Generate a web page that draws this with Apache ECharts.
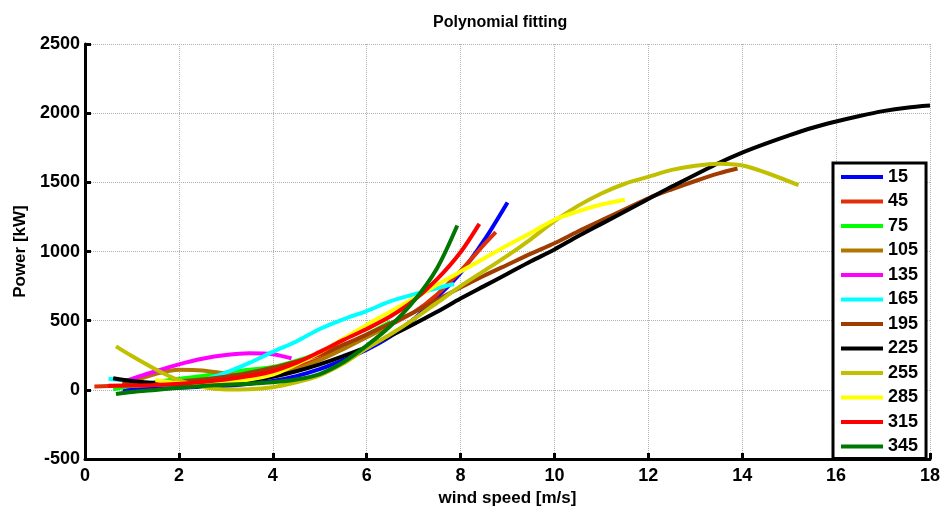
<!DOCTYPE html>
<html>
<head>
<meta charset="utf-8">
<script src="https://cdn.jsdelivr.net/npm/echarts@6/dist/echarts.min.js"></script>
<style>
html,body{margin:0;padding:0;background:#fff;}
#chart{width:943px;height:512px;}
</style>
</head>
<body>
<div id="chart"></div>
<script>
const directions = ['15','45','75','105','135','165','195','225','255','285','315','345'];
const colors = ['#0000ff','#e0300a','#00ff00','#b07800','#ff00ff','#00ffff','#a03c00','#000000','#c0c000','#ffff00','#ff0000','#007700'];

const ws15 = [0.8,1,1.5,2,2.5,3,3.5,4,4.5,5,5.5,6,6.5,7,7.5,8,8.5,9];
const p15  = [0,2,8,15,22,30,45,65,100,150,215,290,385,510,670,845,1080,1355];

const ws45 = [0.2,0.5,1,1.5,2,2.5,3,3.5,4,4.5,5,5.5,6,6.5,7,7.5,8,8.5,8.75];
const p45  = [25,28,33,38,45,55,70,90,120,165,225,300,385,470,560,690,860,1050,1140];

const ws75 = [0.6,1,1.5,2,2.5,3,3.5,4,4.5,5,5.5,6,6.5];
const p75  = [5,30,55,80,100,125,145,165,210,265,320,400,490];

const ws105 = [0.8,1,1.5,2,2.5,3,3.5,4,4.5,5,5.5,6,6.5];
const p105  = [40,60,115,145,140,118,100,105,150,215,295,380,470];

const ws135 = [0.8,1,1.5,2,2.5,3,3.5,4,4.4];
const p135  = [60,80,135,185,225,252,265,258,228];

const ws165 = [0.5,1,1.5,2,2.5,3,3.5,4,4.5,5,5.5,6,6.5,7,7.5,7.86];
const p165  = [80,62,45,40,70,125,195,275,350,440,510,570,640,690,735,765];

const ws195 = [0.8,1,1.5,2,2.5,3,3.5,4,4.5,5,5.5,6,6.5,7,7.5,8,8.5,9,9.5,10,10.5,11,11.5,12,12.5,13,13.5,13.9];
const p195  = [45,45,50,60,75,95,125,160,205,255,325,400,480,560,650,740,825,905,985,1060,1145,1225,1305,1385,1450,1510,1565,1600];

const ws225 = [0.6,1,1.5,2,2.5,3,3.5,4,4.5,5,5.5,6,6.5,7,7.5,8,8.5,9,9.5,10,10.5,11,11.5,12,12.5,13,13.5,14,14.5,15,15.5,16,16.5,17,17.5,18];
const p225  = [85,65,50,45,45,55,70,95,135,185,245,310,390,475,565,660,750,840,930,1015,1110,1200,1290,1380,1470,1555,1640,1715,1780,1840,1895,1940,1980,2015,2040,2055];

const ws255 = [0.66,1,1.5,2,2.5,3,3.5,4,4.5,5,5.5,6,6.5,7,7.5,8,8.5,9,9.5,10,10.5,11,11.5,12,12.5,13,13.5,14.1,15.2];
const p255  = [315,245,150,70,20,3,5,20,55,105,190,300,400,510,630,750,860,970,1090,1220,1330,1420,1490,1540,1590,1620,1635,1615,1480];

const ws285 = [1.5,2,2.5,3,3.5,4,4.5,5,5.5,6,6.5,7,7.5,8,8.5,9,9.5,10,10.5,11,11.5];
const p285  = [70,50,45,55,75,110,185,270,370,470,565,660,760,855,950,1045,1135,1230,1290,1340,1375];

const ws315 = [0.5,1,1.5,2,2.5,3,3.5,4,4.5,5,5.5,6,6.5,7,7.5,8,8.4];
const p315  = [30,32,36,45,58,75,100,135,195,275,360,440,530,645,800,995,1200];

const ws345 = [0.66,1,1.5,2,2.5,3,3.5,4,4.5,5,5.5,6,6.5,7,7.5,7.93];
const p345  = [-30,-15,0,15,28,38,45,55,75,115,200,320,460,640,880,1188];

const xTicks = [0,2,4,6,8,10,12,14,16,18];
const yTicks = [-500,0,500,1000,1500,2000,2500];

const speeds = [ws15,ws45,ws75,ws105,ws135,ws165,ws195,ws225,ws255,ws285,ws315,ws345];
const powers = [p15,p45,p75,p105,p135,p165,p195,p225,p255,p285,p315,p345];

const font = '"Liberation Sans", Arial, sans-serif';

const series = directions.map((d, i) => ({
  name: d,
  type: 'line',
  showSymbol: false,
  smooth: 0.3,
  color: colors[i],
  lineStyle: { width: 4, color: colors[i] },
  data: speeds[i].map((x, k) => [x, powers[i][k]])
}));

const chart = echarts.init(document.getElementById('chart'), null, { renderer: 'canvas' });
chart.setOption({
  animation: false,
  backgroundColor: '#fff',
  title: {
    text: 'Polynomial fitting',
    left: 428, top: 10,
    textStyle: { fontFamily: font, fontWeight: 'bold', fontSize: 16, color: '#000' }
  },
  grid: { left: 85, right: 10, top: 44, bottom: 50 },
  legend: {
    orient: 'vertical',
    left: 833, top: 163,
    data: directions,
    icon: 'rect',
    itemWidth: 42, itemHeight: 4, itemGap: 4.5,
    padding: [4, 8, 2, 8],
    backgroundColor: '#fff',
    borderColor: '#000', borderWidth: 3,
    textStyle: { fontFamily: font, fontWeight: 'bold', fontSize: 18, color: '#000', lineHeight: 20 }
  },
  xAxis: {
    type: 'value', min: xTicks[0], max: xTicks[xTicks.length-1], interval: 2,
    name: 'wind speed [m/s]', nameLocation: 'middle', nameGap: 27,
    nameTextStyle: { fontFamily: font, fontWeight: 'bold', fontSize: 17, color: '#000' },
    axisLine: { onZero: false, lineStyle: { color: '#000', width: 3 } },
    axisTick: { inside: true, length: 6, lineStyle: { color: '#000', width: 3 } },
    axisLabel: { margin: 8, fontFamily: font, fontWeight: 'bold', fontSize: 18, color: '#000',
                 formatter: v => String(v) },
    splitLine: { show: true, lineStyle: { type: 'dotted', color: '#b0b0b0', width: 1 } }
  },
  yAxis: {
    type: 'value', min: yTicks[0], max: yTicks[yTicks.length-1], interval: 500,
    name: 'Power [kW]', nameLocation: 'middle', nameGap: 43,
    nameTextStyle: { fontFamily: font, fontWeight: 'bold', fontSize: 17, color: '#000' },
    axisLine: { show: true, onZero: false, lineStyle: { color: '#000', width: 3 } },
    axisTick: { show: true, inside: true, length: 6, lineStyle: { color: '#000', width: 3 } },
    axisLabel: { margin: 5, fontFamily: font, fontWeight: 'bold', fontSize: 18, color: '#000',
                 formatter: v => String(v) },
    splitLine: { show: true, lineStyle: { type: 'dotted', color: '#b0b0b0', width: 1 } }
  },
  series: series
});
</script>
</body>
</html>
